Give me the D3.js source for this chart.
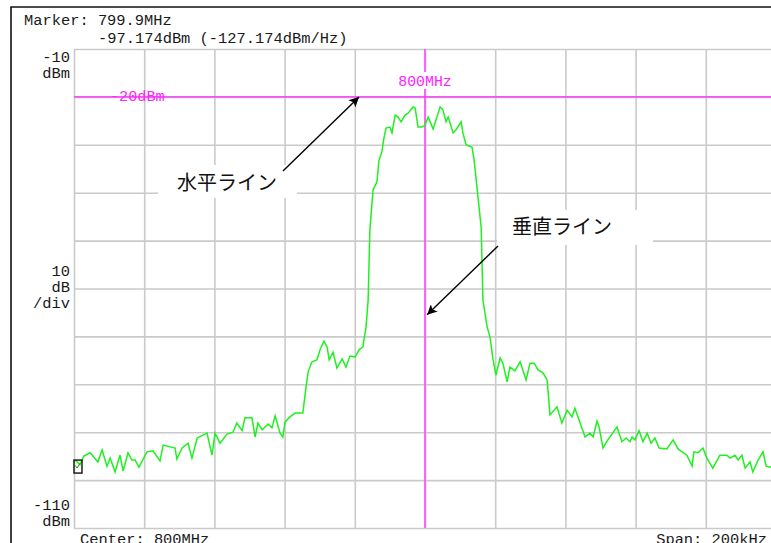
<!DOCTYPE html>
<html>
<head>
<meta charset="utf-8">
<script src="https://cdn.jsdelivr.net/npm/d3@7"></script>
<style>
  html, body { margin: 0; padding: 0; background: #fff; }
  svg { display: block; }
  .mono { font-family: "Liberation Mono", "DejaVu Sans Mono", monospace; }
  .jp { font-family: "Noto Sans CJK JP", "Noto Sans", sans-serif; }
</style>
</head>
<body>
<script>
// Spectrum trace: frequency offset from centre (kHz) and level (dBm)
const freqKHz = [
  -99.7, -98.3, -97.2, -95.4, -93.2, -92.0, -90.6, -89.7, -88.3, -86.9, -86.0, -84.6, -83.5, -82.6, -81.5,
  -79.2, -77.5, -75.5, -74.6, -71.2, -70.7, -69.2, -67.5, -66.4, -64.9, -62.1, -60.7, -59.8, -58.4, -56.4,
  -54.7, -53.6, -52.1, -51.3, -49.3, -48.4, -47.6, -46.4, -44.7, -43.6, -42.7, -41.3, -40.5, -39.9, -38.5,
  -37.0, -34.8, -33.9, -33.3, -32.2, -30.8, -29.9, -28.8, -27.9, -27.3, -26.2, -25.1, -23.6, -22.5, -21.4,
  -19.9, -18.8, -17.7, -16.8, -16.2, -15.7, -14.8, -13.7, -13.1, -12.3, -11.7, -11.1, -10.0, -9.4, -8.5,
  -7.7, -6.8, -5.7, -4.8, -3.4, -2.8, -2.0, -0.9, 0.0, 0.9, 2.3, 3.4, 4.3, 5.1, 6.0,
  6.6, 8.0, 8.8, 10.3, 10.8, 11.7, 13.4, 14.0, 14.8, 15.4, 16.0, 16.5, 17.7, 18.5, 19.4,
  20.2, 21.4, 22.2, 23.4, 24.2, 25.6, 27.1, 28.8, 29.9, 31.1, 32.2, 33.6, 34.8, 35.6, 37.6,
  39.0, 40.5, 41.9, 42.7, 44.2, 45.6, 47.0, 47.9, 49.0, 49.6, 50.7, 52.1, 54.7, 56.1, 57.3,
  58.4, 59.0, 59.8, 61.0, 62.1, 63.3, 64.4, 65.5, 66.7, 68.9, 70.7, 72.1, 74.6, 76.1, 76.6,
  77.8, 79.2, 80.3, 82.0, 84.0, 86.0, 86.9, 88.3, 89.2, 90.3, 91.2, 92.6, 93.4, 94.9, 96.3,
  97.2, 98.3, 100.0
];
const levelDbm = [
  -95.8, -96.8, -95.0, -94.3, -96.2, -93.7, -97.1, -95.4, -98.3, -94.8, -98.1, -94.3, -95.8, -95.8, -97.3,
  -94.1, -93.9, -96.0, -92.7, -93.3, -95.6, -93.3, -92.3, -95.4, -91.2, -90.2, -94.8, -90.2, -92.3, -90.4,
  -90.0, -88.1, -89.7, -87.0, -87.0, -91.0, -88.1, -89.5, -88.3, -89.1, -86.6, -90.2, -91.0, -87.9, -86.8,
  -86.0, -86.0, -80.6, -77.4, -75.3, -74.9, -72.8, -71.0, -72.2, -74.9, -73.3, -76.6, -74.7, -76.4, -74.1,
  -74.3, -72.8, -72.2, -68.0, -62.4, -47.8, -39.4, -37.8, -33.2, -31.5, -28.6, -26.5, -26.3, -27.5, -23.8,
  -24.2, -25.2, -23.8, -23.4, -22.1, -22.3, -26.3, -26.3, -25.9, -24.2, -26.7, -24.2, -22.1, -22.7, -25.2,
  -24.2, -27.5, -26.9, -25.2, -27.5, -30.0, -30.5, -33.2, -38.8, -43.0, -47.2, -62.4, -68.0, -70.1, -74.9,
  -78.1, -74.5, -75.6, -79.5, -76.4, -77.2, -75.3, -79.1, -75.6, -75.6, -77.0, -77.6, -79.1, -86.4, -84.7,
  -88.1, -85.4, -86.8, -85.0, -88.1, -91.0, -90.2, -91.0, -87.7, -88.9, -93.3, -91.6, -88.9, -92.0, -91.2,
  -92.0, -91.0, -91.6, -89.7, -92.0, -90.2, -92.3, -91.2, -93.3, -93.5, -91.6, -93.5, -94.8, -97.1, -94.1,
  -94.3, -93.3, -95.4, -97.5, -94.8, -94.8, -95.4, -94.8, -95.8, -94.8, -97.5, -96.2, -98.3, -95.8, -94.1,
  -97.1, -97.3, -96.8
];

// Display settings and readouts
const refLevel = -10;        // top of screen, dBm
const bottomLevel = -110;    // bottom of screen, dBm
const dbPerDiv = 10;
const spanKHz = 200;
const divisions = 10;
const markerFreqKHz = -100;  // 799.9 MHz
const markerLevel = -97.174;
const hLineLevel = -20;
const vLineFreqKHz = 0;

const headerLines = ["Marker: 799.9MHz", "-97.174dBm (-127.174dBm/Hz)"];
const topAxisLabel = ["-10", "dBm"];
const midAxisLabel = ["10", "dB", "/div"];
const bottomAxisLabel = ["-110", "dBm"];
const centerLabel = "Center: 800MHz";
const spanLabel = "Span: 200kHz";
const hLineLabel = "-20dBm";
const vLineLabel = "800MHz";
const hNote = "水平ライン";
const vNote = "垂直ライン";
// Arrow tips in data coordinates
const hNoteTip = { f: -18.8, v: -20 };
const vNoteTip = { f: 0.6, v: -65.5 };

const W = 771, H = 543;
const plot = { left: 74, right: 776, top: 49, bottom: 528 };

const svg = d3.select("body").append("svg")
  .attr("width", W).attr("height", H)
  .attr("viewBox", `0 0 ${W} ${H}`);

svg.append("rect").attr("width", W).attr("height", H).attr("fill", "#fff");

const x = d3.scaleLinear().domain([-spanKHz / 2, spanKHz / 2]).range([plot.left, plot.right]);
const y = d3.scaleLinear().domain([refLevel, bottomLevel]).range([plot.top, plot.bottom]);

const defs = svg.append("defs");
defs.append("marker")
  .attr("id", "arrowHead")
  .attr("viewBox", "0 0 10 10")
  .attr("refX", 10).attr("refY", 5)
  .attr("markerWidth", 15).attr("markerHeight", 10)
  .attr("markerUnits", "userSpaceOnUse")
  .attr("orient", "auto")
  .append("path").attr("d", "M0,0 L10,5 L0,10 L2.5,5 Z").attr("fill", "#000");
defs.append("clipPath").attr("id", "plotClip")
  .append("rect").attr("x", plot.left).attr("y", plot.top)
  .attr("width", plot.right - plot.left).attr("height", plot.bottom - plot.top);

// Instrument frame
svg.append("path")
  .attr("d", `M11,${H + 2} V7 H${W + 2}`)
  .attr("fill", "none").attr("stroke", "#111").attr("stroke-width", 1.6);

// Graticule drawn with axes
const xTicks = d3.range(-spanKHz / 2, spanKHz / 2 + 0.001, spanKHz / divisions);
const yTicks = d3.range(refLevel, bottomLevel - 0.001, -dbPerDiv);

const gridX = svg.append("g")
  .attr("transform", `translate(0,${plot.bottom})`)
  .call(d3.axisBottom(x).tickValues(xTicks).tickSize(-(plot.bottom - plot.top)).tickFormat(""));
const gridY = svg.append("g")
  .attr("transform", `translate(${plot.left},0)`)
  .call(d3.axisLeft(y).tickValues(yTicks).tickSize(-(plot.right - plot.left)).tickFormat(""));
[gridX, gridY].forEach(g => {
  g.select(".domain").remove();
  g.selectAll(".tick line").attr("stroke", "#cacaca").attr("stroke-width", 1.6);
});

// Header readout
const mono = svg.append("g").attr("class", "mono").attr("fill", "#1a1a1a").style("font-size", "15.4px");
mono.append("text").attr("x", 24).attr("y", 25).text(headerLines[0]);
mono.append("text").attr("x", 98).attr("y", 42.5).text(headerLines[1]);

// Left scale annotations
function stack(lines, y0, step) {
  lines.forEach((t, i) => {
    mono.append("text").attr("x", 70).attr("y", y0 + i * step)
      .attr("text-anchor", "end").text(t);
  });
}
stack(topAxisLabel, 62, 15.5);
stack(midAxisLabel, 276, 15.8);
stack(bottomAxisLabel, 510, 15.8);

// Footer
mono.append("text").attr("x", 80).attr("y", 544).text(centerLabel);
mono.append("text").attr("x", 767).attr("y", 544).attr("text-anchor", "end").text(spanLabel);

// Display lines
const magenta = "#ff22ff";
svg.append("line")
  .attr("x1", x(vLineFreqKHz)).attr("x2", x(vLineFreqKHz))
  .attr("y1", plot.top).attr("y2", plot.bottom)
  .attr("stroke", "#ff55ff").attr("stroke-width", 1.8);
svg.append("line")
  .attr("x1", plot.left).attr("x2", plot.right)
  .attr("y1", y(hLineLevel)).attr("y2", y(hLineLevel))
  .attr("stroke", magenta).attr("stroke-width", 1.2);

// Vertical line label with a white backing
svg.append("rect")
  .attr("x", x(vLineFreqKHz) - 29).attr("y", 72).attr("width", 58).attr("height", 17)
  .attr("fill", "#fff");
svg.append("text").attr("class", "mono")
  .attr("x", x(vLineFreqKHz)).attr("y", 86).attr("text-anchor", "middle")
  .attr("fill", magenta).style("font-size", "14.8px").text(vLineLabel);
svg.append("text").attr("class", "mono")
  .attr("x", 110).attr("y", y(hLineLevel) + 4.5)
  .attr("fill", magenta).style("font-size", "15.2px").text(hLineLabel);

// Trace
const trace = freqKHz.map((f, i) => [f, levelDbm[i]]);
svg.append("path")
  .datum(trace)
  .attr("clip-path", "url(#plotClip)")
  .attr("fill", "none")
  .attr("stroke", "#1ff01f")
  .attr("stroke-width", 1.5)
  .attr("stroke-linejoin", "miter")
  .attr("d", d3.line().x(d => x(d[0])).y(d => y(d[1])));

// Marker symbol
const mx = x(markerFreqKHz), my = y(markerLevel);
svg.append("rect")
  .attr("x", mx).attr("y", my - 6.5).attr("width", 8).attr("height", 13)
  .attr("fill", "none").attr("stroke", "#111").attr("stroke-width", 1.4);
svg.append("path")
  .attr("d", `M${mx + 1.5},${my - 1} L${mx + 3},${my + 1.5} L${mx + 6},${my - 3}`)
  .attr("fill", "none").attr("stroke", "#1a9a1a").attr("stroke-width", 1);

// Callouts
svg.append("rect").attr("x", 158).attr("y", 165).attr("width", 139).attr("height", 33).attr("fill", "#fff");
svg.append("rect").attr("x", 497).attr("y", 210).attr("width", 156).attr("height", 35).attr("fill", "#fff");

svg.append("text").attr("class", "jp").attr("x", 177).attr("y", 190)
  .attr("fill", "#111").style("font-size", "20px").text(hNote);
svg.append("text").attr("class", "jp").attr("x", 512).attr("y", 234)
  .attr("fill", "#111").style("font-size", "20px").text(vNote);

svg.append("line")
  .attr("x1", 283).attr("y1", 171)
  .attr("x2", x(hNoteTip.f)).attr("y2", y(hNoteTip.v))
  .attr("stroke", "#000").attr("stroke-width", 1.4)
  .attr("marker-end", "url(#arrowHead)");
svg.append("line")
  .attr("x1", 498).attr("y1", 246)
  .attr("x2", x(vNoteTip.f)).attr("y2", y(vNoteTip.v))
  .attr("stroke", "#000").attr("stroke-width", 1.4)
  .attr("marker-end", "url(#arrowHead)");
</script>
</body>
</html>
